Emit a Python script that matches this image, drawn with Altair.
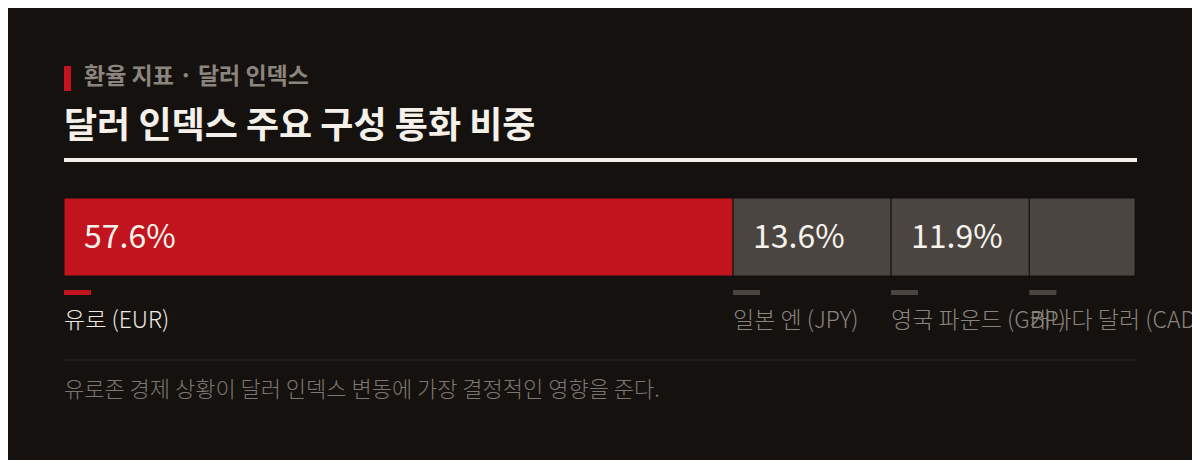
import altair as alt
import pandas as pd

# ---- data ----
currencies = ["유로 (EUR)", "일본 엔 (JPY)", "영국 파운드 (GBP)", "캐나다 달러 (CAD)"]
shares = [57.6, 13.6, 11.9, 9.1]
seg_colors = ["#c1141f", "#4b4541", "#4b4541", "#4b4541"]
label_colors = ["#ece7e0", "#8b857e", "#8b857e", "#8b857e"]

kicker = "환율 지표 · 달러 인덱스"
title = "달러 인덱스 주요 구성 통화 비중"
footnote = "유로존 경제 상황이 달러 인덱스 변동에 가장 결정적인 영향을 준다."

BG = "#14110f"
FONT = "Noto Sans CJK KR"

df = pd.DataFrame({
    "currency": currencies,
    "share": shares,
    "order": list(range(len(currencies))),
    "seg_color": seg_colors,
    "label_color": label_colors,
})
total = sum(shares)

xscale = alt.Scale(domain=[0, total], nice=False, zero=True)

base = alt.Chart(df).transform_stack(
    stack="share", groupby=[], as_=["x0", "x1"], sort=[alt.SortField("order")]
).transform_calculate(
    pct="format(datum.share, '.1f') + '%'"
)

bars = base.mark_rect(stroke=BG, strokeWidth=1).encode(
    x=alt.X("x0:Q", scale=xscale, axis=None),
    x2="x1:Q",
    y=alt.value(190),
    y2=alt.value(268),
    color=alt.Color("seg_color:N", scale=None, legend=None),
)

values = base.transform_filter("datum.share >= 10").mark_text(
    align="left", baseline="middle", dx=20, font=FONT, fontSize=32,
    fontWeight=400, color="#f7f3ec"
).encode(
    x=alt.X("x0:Q", scale=xscale, axis=None),
    y=alt.value(230),
    text="pct:N",
)

markers = base.mark_rect(x2Offset=27).encode(
    x=alt.X("x0:Q", scale=xscale, axis=None),
    x2="x0:Q",
    y=alt.value(282),
    y2=alt.value(287),
    color=alt.Color("seg_color:N", scale=None, legend=None),
)

cat_labels = base.mark_text(
    align="left", baseline="middle", font=FONT, fontSize=23, fontWeight=300
).encode(
    x=alt.X("x0:Q", scale=xscale, axis=None),
    y=alt.value(313),
    text="currency:N",
    color=alt.Color("label_color:N", scale=None, legend=None),
)

one = alt.Chart(pd.DataFrame({"k": [0]}))

kicker_bar = one.mark_rect(color="#c1141f").encode(
    x=alt.value(0), x2=alt.value(7), y=alt.value(58), y2=alt.value(83)
)
kicker_text = one.mark_text(
    align="left", baseline="middle", font=FONT, fontSize=23, fontWeight=700,
    color="#8b857e", text=kicker
).encode(x=alt.value(20), y=alt.value(69))

title_text = one.mark_text(
    align="left", baseline="middle", font=FONT, fontSize=36, fontWeight=700,
    color="#f5f1ea", text=title
).encode(x=alt.value(0), y=alt.value(119))

top_rule = one.mark_rule(color="#f5f1ea", strokeWidth=4).encode(
    x=alt.value(0), x2=alt.value(1073), y=alt.value(152)
)
divider = one.mark_rule(color="#2b2725", strokeWidth=1).encode(
    x=alt.value(0), x2=alt.value(1073), y=alt.value(352)
)
foot_text = one.mark_text(
    align="left", baseline="middle", font=FONT, fontSize=22, fontWeight=300,
    color="#7d7771", text=footnote
).encode(x=alt.value(0), y=alt.value(382))

chart = alt.layer(
    kicker_bar, kicker_text, title_text, top_rule,
    bars, values, markers, cat_labels, divider, foot_text
).properties(
    width=1071, height=452,
    autosize=alt.AutoSizeParams(type="none"),
    padding={"left": 56, "top": 0, "right": 57, "bottom": 0},
    background=BG,
).configure_view(stroke=None)

chart.save("out.html", embed_options={"renderer": "svg", "actions": False})
